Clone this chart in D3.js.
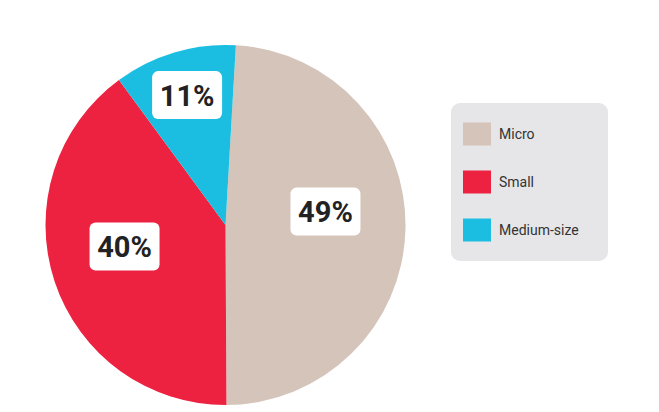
<!DOCTYPE html>
<html>
<head>
<meta charset="utf-8">
<script src="https://cdn.jsdelivr.net/npm/d3@7"></script>
<style>
  html, body { margin: 0; padding: 0; background: #fff; }
  svg { display: block; font-family: Roboto, "Noto Sans", sans-serif; }
</style>
</head>
<body>
<svg id="chart" width="659" height="412"></svg>
<script>
/* ── Data ─────────────────────────────────────────────────────────────── */
const categories = ['Micro', 'Small', 'Medium-size'];
const shares     = [49, 40, 11];
const colors     = ['#d5c4ba', '#ed2140', '#1bbde0'];

/* ── Layout constants ─────────────────────────────────────────────────── */
const CX = 225.5, CY = 225, R = 180;
const START = 3.3 * Math.PI / 180;
const LABEL_R = 100;
// small nudges so the value boxes sit where the original put them
const LABEL_NUDGE = { 'Micro': [0, -16], 'Small': [-6, -10], 'Medium-size': [-10, -34] };
const BOX_W = 70, BOX_H = 48;

const svg = d3.select('#chart');
const rows = categories.map((c, i) => ({ cat: c, value: shares[i], color: colors[i] }));

const pie = d3.pie().sort(null).value(d => d.value)
  .startAngle(START).endAngle(START + 2 * Math.PI);
const arcs = pie(rows);

const arc = d3.arc().innerRadius(0).outerRadius(R);
const labelArc = d3.arc().innerRadius(LABEL_R).outerRadius(LABEL_R);

const g = svg.append('g').attr('transform', `translate(${CX},${CY})`);

g.selectAll('path.slice')
  .data(arcs)
  .join('path')
  .attr('class', 'slice')
  .attr('d', arc)
  .attr('fill', d => d.data.color);

/* ── Value labels ─────────────────────────────────────────────────────── */
const lab = g.selectAll('g.lab')
  .data(arcs)
  .join('g')
  .attr('class', 'lab')
  .attr('transform', d => {
    const [x, y] = labelArc.centroid(d);
    const [nx, ny] = LABEL_NUDGE[d.data.cat];
    return `translate(${x + nx},${y + ny})`;
  });

lab.append('rect')
  .attr('x', -BOX_W / 2).attr('y', -BOX_H / 2)
  .attr('width', BOX_W).attr('height', BOX_H)
  .attr('rx', 6)
  .attr('fill', '#fff');

lab.append('text')
  .attr('text-anchor', 'middle')
  .attr('dy', '0.36em')
  .attr('font-size', 29)
  .attr('font-weight', 700)
  .attr('fill', '#222')
  .text(d => d.data.value + '%');

/* ── Legend ───────────────────────────────────────────────────────────── */
const legend = svg.append('g').attr('transform', 'translate(451,103)');
legend.append('rect')
  .attr('width', 157).attr('height', 158)
  .attr('rx', 9)
  .attr('fill', '#e6e6e8');

const ly = d3.scalePoint().domain(categories).range([31, 127]);

const item = legend.selectAll('g.item')
  .data(rows)
  .join('g')
  .attr('class', 'item')
  .attr('transform', d => `translate(12,${ly(d.cat)})`);

item.append('rect')
  .attr('y', -11.5).attr('width', 28).attr('height', 23)
  .attr('fill', d => d.color);

item.append('text')
  .attr('x', 36)
  .attr('dy', '0.35em')
  .attr('font-size', 14)
  .attr('fill', '#333')
  .text(d => d.cat);
</script>
</body>
</html>
